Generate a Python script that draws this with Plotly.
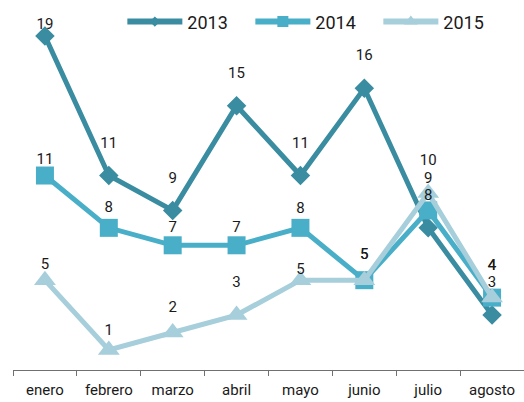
import plotly.graph_objects as go

months = ["enero", "febrero", "marzo", "abril", "mayo", "junio", "julio", "agosto"]
s2013 = [19, 11, 9, 15, 11, 16, 8, 3]
s2014 = [11, 8, 7, 7, 8, 5, 9, 4]
s2015 = [5, 1, 2, 3, 5, 5, 10, 4]

# per-point label offset (invisible spacer size) -- styling only
lab_off = {
    "2013": [3, 37, 37, 37, 37, 37, 37, 37],
    "2014": [11, 17, 13, 13, 16, 27, 37, 37],
    "2015": [11, 17, 25, 37, 3, 27, 37, 37],
}

series = [
    ("2013", s2013, "#3a8ca1", "diamond", 15, 8),
    ("2014", s2014, "#49aec7", "square", 18, 11),
    ("2015", s2015, "#a6cedb", "triangle-up", 19, 12),
]

fig = go.Figure()
for name, vals, color, sym, size, lsize in series:
    fig.add_trace(go.Scatter(
        x=months, y=vals, name=name, mode="lines+markers", showlegend=False,
        line=dict(color=color, width=5),
        marker=dict(symbol=sym, size=size, color=color, line=dict(width=0)),
        cliponaxis=False, hoverinfo="x+y+name",
    ))

for name, vals, color, sym, size, lsize in series:
    fig.add_trace(go.Scatter(
        x=months, y=vals, mode="markers+text", showlegend=False,
        marker=dict(size=lab_off[name], color="rgba(0,0,0,0)", opacity=0,
                    line=dict(width=0, color="rgba(0,0,0,0)")),
        text=[str(v) for v in vals], textposition="top center",
        textfont=dict(family="Roboto", size=15, color="#1a1a1a"),
        cliponaxis=False, hoverinfo="skip",
    ))

# legend entries (small markers as in the reference)
for name, vals, color, sym, size, lsize in series:
    fig.add_trace(go.Scatter(
        x=[None], y=[None], name=name, mode="lines+markers",
        line=dict(color=color, width=6),
        marker=dict(symbol=sym, size=lsize, color=color, line=dict(width=0)),
        hoverinfo="skip",
    ))

fig.update_layout(
    width=524, height=402,
    margin=dict(l=13, r=0, t=10, b=32),
    paper_bgcolor="white", plot_bgcolor="white",
    font=dict(family="Roboto", size=15, color="#1a1a1a"),
    showlegend=True,
    legend=dict(orientation="h", x=0.214, xanchor="left", y=0.967, yanchor="middle",
                font=dict(size=18, color="#1a1a1a"), itemwidth=55,
                entrywidth=58, entrywidthmode="pixels",
                bgcolor="rgba(0,0,0,0)", tracegroupgap=0),
    xaxis=dict(showgrid=False, showline=True, linecolor="#707070", linewidth=1,
               ticks="outside", tickson="boundaries", ticklen=5, tickcolor="#707070",
               tickfont=dict(size=15, color="#1a1a1a"), ticklabelstandoff=6,
               range=[-0.5, 7.5]),
    yaxis=dict(visible=False, range=[-0.15, 20.49]),
)

fig.write_html("out.html")
